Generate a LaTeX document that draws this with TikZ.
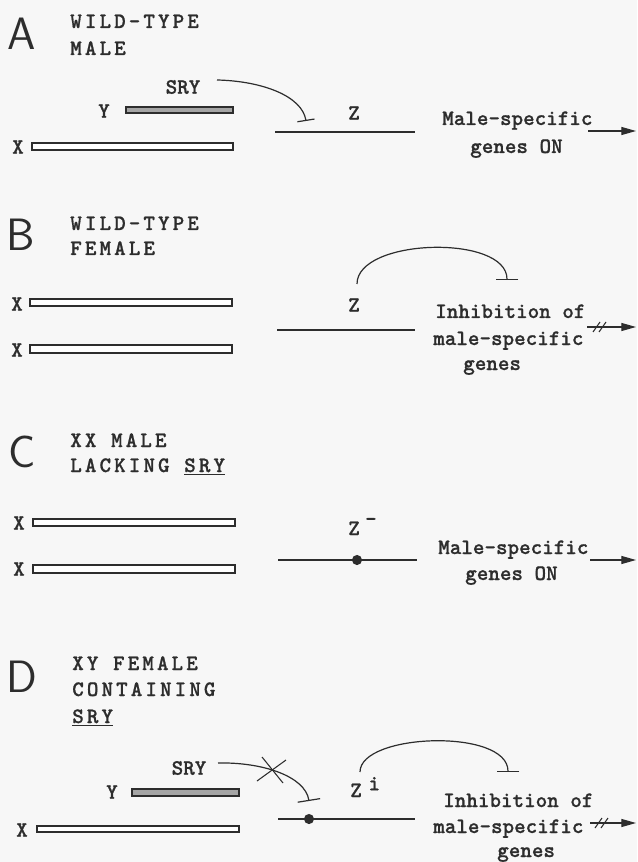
\documentclass[tikz,border=0pt]{standalone}
\usepackage{fontspec}
\newfontfamily\headfont{lmmonolt10-bold.otf}[LetterSpace=14,FakeBold=0.8]
\newfontfamily\bodyfont{lmmonolt10-bold.otf}[FakeBold=0.8]
\usetikzlibrary{arrows.meta}
\definecolor{ink}{RGB}{45,45,45}
\definecolor{bgc}{RGB}{247,247,247}
\definecolor{ygray}{RGB}{165,165,165}
\tikzset{
  lbl/.style={font=\fontsize{16.5}{18}\bodyfont, text=ink, inner sep=0pt},
  head/.style={font=\fontsize{16.5}{18}\headfont, text=ink, inner sep=0pt, anchor=base west},
  big/.style={font=\fontsize{34}{34}\sffamily, text=ink, inner sep=0pt},
  xchrom/.style={draw=ink, line width=0.9pt, fill=white},
  ychrom/.style={draw=ink, line width=0.9pt, fill=ygray},
  zline/.style={draw=ink, line width=1.7pt},
  inhib/.style={draw=ink, line width=0.9pt, -{Bar[width=17pt,line width=0.9pt]}},
  inhibs/.style={draw=ink, line width=0.9pt, -{Bar[width=13pt,line width=0.9pt]}},
  act/.style={draw=ink, line width=0.9pt, -{Triangle[length=11pt,width=6pt]}},
  slash/.style={draw=ink, line width=0.8pt},
}
\begin{document}
\begin{tikzpicture}[x=0.75pt,y=-0.75pt]
\fill[bgc] (0,0) rectangle (637,862);
\useasboundingbox (0,0) rectangle (637,862);

% ---------------- Panel A ----------------
\node[big] (LA) at (22,34) {A};
\node[head] (hA1) at (70,28) {WILD-TYPE};
\node[head] (hA2) at (70,55) {MALE};
\node[lbl] (sryA) at (183,87) {SRY};
\node[lbl] (yA) at (104,111) {Y};
\node[lbl] (xA) at (18,147) {X};
\draw[ychrom] (126,107) rectangle (233,113);
\draw[xchrom] (32,143) rectangle (233,150);
\coordinate (zAs) at (275,132);
\coordinate (zAe) at (415,132);
\draw[zline] (zAs) -- (zAe);
\node[lbl] (zA) at (354,113) {Z};
\coordinate (sryAs) at (217,80);
\coordinate (sryAe) at (306,121);
\draw[inhibs] (sryAs) .. controls (262,81) and (302,96) .. (sryAe);
\node[lbl, anchor=base west] (mA1) at (442,125) {Male-specific};
\node[lbl, anchor=base west] (mA2) at (470,153) {genes ON};
\coordinate (aAs) at (588,131);
\coordinate (aAe) at (636,131);
\draw[act] (aAs) -- (aAe);

% ---------------- Panel B ----------------
\node[big] (LB) at (21,235) {B};
\node[head] (hB1) at (70,230) {WILD-TYPE};
\node[head] (hB2) at (70,255) {FEMALE};
\node[lbl] (xB1) at (17,304) {X};
\node[lbl] (xB2) at (17,350) {X};
\draw[xchrom] (30,299) rectangle (232,306);
\draw[xchrom] (30,345) rectangle (232,353);
\coordinate (zBs) at (277,330);
\coordinate (zBe) at (415,330);
\draw[zline] (zBs) -- (zBe);
\node[lbl] (zB) at (354,305) {Z};
\coordinate (cBs) at (357,284);
\coordinate (cBe) at (507,280);
\draw[inhib] (cBs) .. controls (357,238) and (507,234) .. (cBe);
\node[lbl, anchor=base west] (iB1) at (435,318) {Inhibition of};
\node[lbl, anchor=base west] (iB2) at (433,345) {male-specific};
\node[lbl, anchor=base west] (iB3) at (463,370) {genes};
\coordinate (aBs) at (587,327);
\coordinate (aBe) at (636,327);
\draw[act] (aBs) -- (aBe);
\draw[slash] (593,332) -- (600,322);
\draw[slash] (599,332) -- (606,322);

% ---------------- Panel C ----------------
\node[big] (LC) at (22,452) {C};
\node[head] (hC1) at (70,447) {XX MALE};
\node[head] (hC2) at (70,472) {LACKING \underline{SRY}};
\node[lbl] (xC1) at (19,523) {X};
\node[lbl] (xC2) at (19,569) {X};
\draw[xchrom] (33,519) rectangle (235,526);
\draw[xchrom] (33,565) rectangle (235,573);
\coordinate (zCs) at (278,560);
\coordinate (zCe) at (417,560);
\draw[zline] (zCs) -- (zCe);
\fill[ink] (357,560) circle[radius=3.8pt];
\node[lbl, anchor=base west] (zC) at (348,535) {Z\hspace{4pt}\raisebox{7pt}{-}};
\node[lbl, anchor=base west] (mC1) at (438,554) {Male-specific};
\node[lbl, anchor=base west] (mC2) at (465,580) {genes ON};
\coordinate (aCs) at (590,560);
\coordinate (aCe) at (636,560);
\draw[act] (aCs) -- (aCe);

% ---------------- Panel D ----------------
\node[big] (LD) at (22,677) {D};
\node[head] (hD1) at (72,670) {XY FEMALE};
\node[head] (hD2) at (72,696) {CONTAINING};
\node[head] (hD3) at (72,723) {\underline{SRY}};
\node[lbl] (sryD) at (189,768) {SRY};
\node[lbl] (yD) at (112,792) {Y};
\node[lbl] (xD) at (22,830) {X};
\draw[ychrom] (132,789) rectangle (239,796);
\draw[xchrom] (37,826) rectangle (239,832);
\coordinate (zDs) at (278,819);
\coordinate (zDe) at (415,819);
\draw[zline] (zDs) -- (zDe);
\fill[ink] (309,819) circle[radius=3.8pt];
\node[lbl, anchor=base west] (zD) at (350,797) {Z\hspace{5pt}\raisebox{5pt}{i}};
\coordinate (sryDs) at (218,763);
\coordinate (sryDe) at (309,801);
\draw[inhib] (sryDs) .. controls (262,762) and (305,776) .. (sryDe);
\draw[slash] (262,757) -- (283,783);
\draw[slash] (257,781) -- (286,760);
\coordinate (cDs) at (360,772);
\coordinate (cDe) at (508,772);
\draw[inhib] (cDs) .. controls (360,733) and (508,728) .. (cDe);
\node[lbl, anchor=base west] (iD1) at (443,807) {Inhibition of};
\node[lbl, anchor=base west] (iD2) at (433,833) {male-specific};
\node[lbl, anchor=base west] (iD3) at (497,857) {genes};
\coordinate (aDs) at (590,823);
\coordinate (aDe) at (636,823);
\draw[act] (aDs) -- (aDe);
\draw[slash] (595,828) -- (602,818);
\draw[slash] (601,828) -- (608,818);
\end{tikzpicture}
\end{document}
